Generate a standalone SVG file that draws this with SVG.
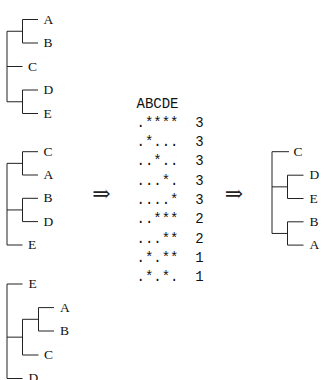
<svg xmlns="http://www.w3.org/2000/svg" width="324" height="380" viewBox="0 0 324 380">
<style>
.e{fill:none;stroke:#222;stroke-width:1}
.l{font-family:"Liberation Serif","DejaVu Serif",serif;font-size:13.5px;fill:#111}
.m{font-family:"Liberation Mono","DejaVu Sans Mono",monospace;font-size:14px;fill:#111;white-space:pre}
.a{font-family:"DejaVu Serif","DejaVu Sans",serif;font-size:22px;fill:#222}
</style>
<rect width="324" height="380" fill="#fff"/>
<g id="connectors">
<path class="e" d="M7,31.25V101.75 M7,31.25H22.5 M22.5,19.5V43 M22.5,19.5H38 M22.5,43H38 M7,66.5H22.5 M7,101.75H22.5 M22.5,90V113.5 M22.5,90H38 M22.5,113.5H38"/>
<path class="e" d="M7,163.35V245 M7,163.35H22.5 M22.5,151.7V175 M22.5,151.7H38 M22.5,175H38 M7,209.95H22.5 M22.5,198.3V221.6 M22.5,198.3H38 M22.5,221.6H38 M7,245H22.5"/>
<path class="e" d="M7,284V378.5 M7,284H22.5 M7,337.15H22.5 M22.5,319.3V355 M22.5,319.3H38.5 M38.5,307.6V331 M38.5,307.6H54 M38.5,331H54 M22.5,355H38.5 M7,378.5H22.5"/>
<path class="e" d="M272,151.7V233.45 M272,151.7H289 M272,186.85H287.5 M287.5,175.2V198.5 M287.5,175.2H303.5 M287.5,198.5H303.5 M272,233.45H287.5 M287.5,221.8V245.1 M287.5,221.8H303.5 M287.5,245.1H303.5"/>
</g>
<g id="tree1">
<text class="l" x="43.5" y="23.5">A</text>
<text class="l" x="43.5" y="47">B</text>
<text class="l" x="28" y="70.5">C</text>
<text class="l" x="43.5" y="94">D</text>
<text class="l" x="43.5" y="117.5">E</text>
</g>
<g id="tree2">
<text class="l" x="43.5" y="155.7">C</text>
<text class="l" x="43.5" y="179">A</text>
<text class="l" x="43.5" y="202.3">B</text>
<text class="l" x="43.5" y="225.6">D</text>
<text class="l" x="28" y="249">E</text>
</g>
<g id="tree3">
<text class="l" x="28.5" y="288">E</text>
<text class="l" x="60" y="311.6">A</text>
<text class="l" x="60" y="335">B</text>
<text class="l" x="44" y="359">C</text>
<text class="l" x="28.5" y="382">D</text>
</g>
<g id="table">
<text class="m" x="136.5" y="107.5">ABCDE</text>
<text class="m" x="136.5" y="126.8">.****  3</text>
<text class="m" x="136.5" y="146.1">.*...  3</text>
<text class="m" x="136.5" y="165.4">..*..  3</text>
<text class="m" x="136.5" y="184.7">...*.  3</text>
<text class="m" x="136.5" y="204">....*  3</text>
<text class="m" x="136.5" y="223.3">..***  2</text>
<text class="m" x="136.5" y="242.6">...**  2</text>
<text class="m" x="136.5" y="261.9">.*.**  1</text>
<text class="m" x="136.5" y="281.2">.*.*.  1</text>
</g>
<g id="arrow1"><text class="a" x="101.5" y="200.5" text-anchor="middle">⇒</text></g>
<g id="arrow2"><text class="a" x="234" y="200.5" text-anchor="middle">⇒</text></g>
<g id="tree4">
<text class="l" x="293.5" y="155.7">C</text>
<text class="l" x="309.5" y="179.2">D</text>
<text class="l" x="309.5" y="202.5">E</text>
<text class="l" x="309.5" y="225.8">B</text>
<text class="l" x="309.5" y="249.1">A</text>
</g>
</svg>
